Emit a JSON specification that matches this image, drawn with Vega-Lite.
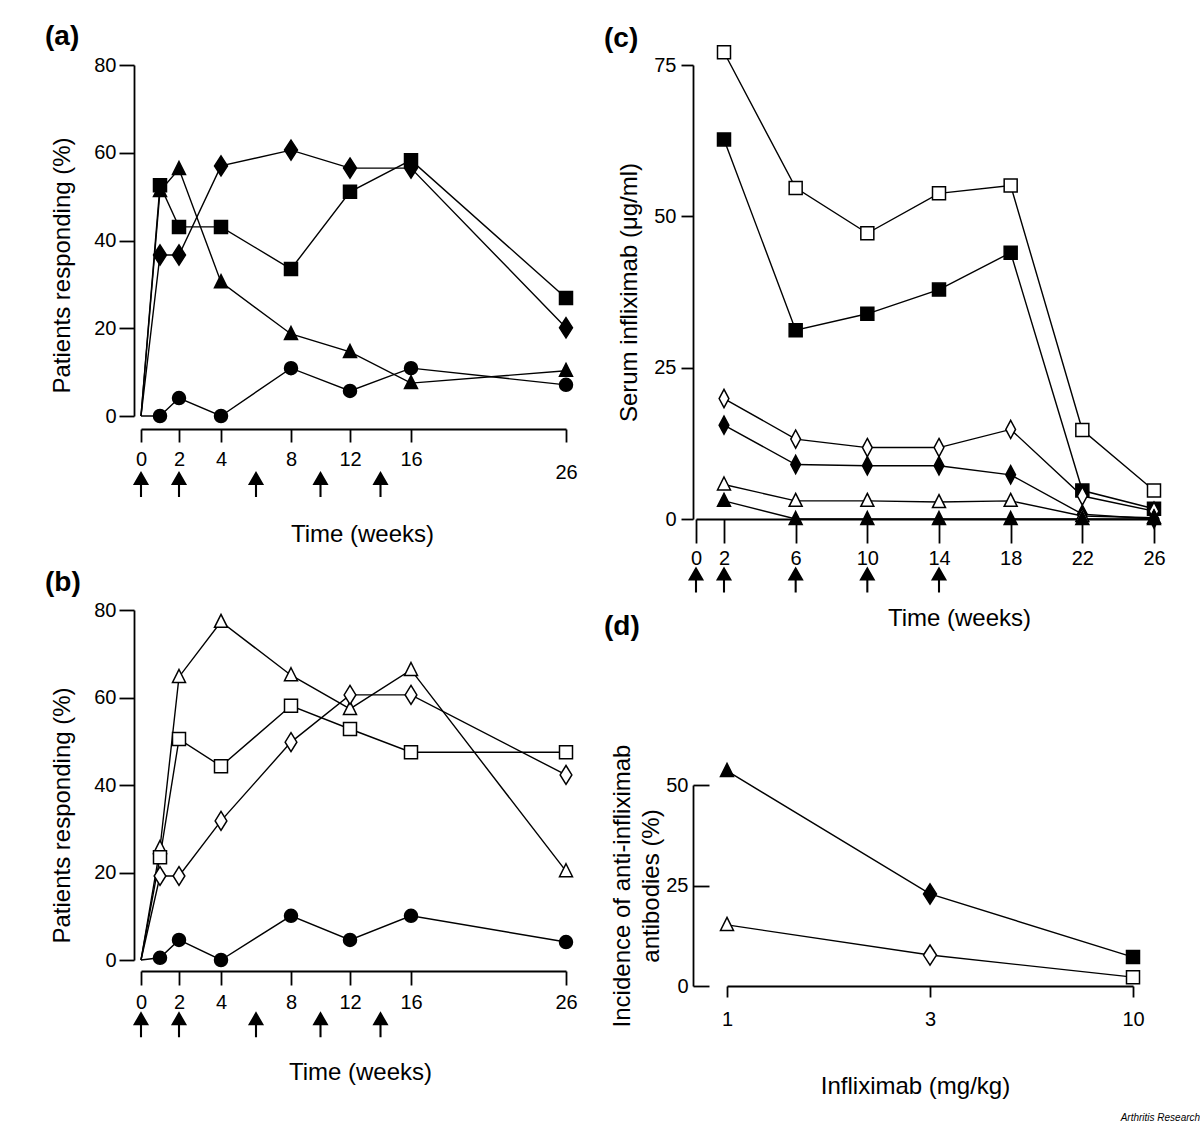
{
"$schema": "https://vega.github.io/schema/vega-lite/v6.json",
"padding": {"left": 45, "top": 23, "right": 5, "bottom": 2},
"config": {
 "font": "Liberation Sans",
 "view": {"stroke": null},
 "axis": {"grid": false, "domainColor": "black", "domainWidth": 1.8, "tickColor": "black", "tickWidth": 1.8, "labelColor": "black", "labelFontSize": 20, "labelFont": "Liberation Sans", "titleColor": "black", "titleFont": "Liberation Sans", "titleFontSize": 24, "titleFontWeight": "normal", "labelOverlap": false, "labelFlush": false},
 "title": {"fontSize": 28, "fontWeight": "bold", "color": "black", "font": "Liberation Sans"}
},
"title": {"text": "Arthritis Research", "orient": "bottom", "anchor": "end", "fontSize": 10, "fontStyle": "italic", "fontWeight": "normal", "baseline": "alphabetic", "offset": 23, "dx": 35, "color": "black"},
"datasets": {
 "inf": [{"week": 0}, {"week": 2}, {"week": 6}, {"week": 10}, {"week": 14}],
 "resp": [
  {"panel":"a","dose":"10 mg/kg","mtx":"without MTX","week":0,"pct":0},
  {"panel":"a","dose":"10 mg/kg","mtx":"without MTX","week":1,"pct":52.6},
  {"panel":"a","dose":"10 mg/kg","mtx":"without MTX","week":2,"pct":43.1},
  {"panel":"a","dose":"10 mg/kg","mtx":"without MTX","week":4,"pct":43.1},
  {"panel":"a","dose":"10 mg/kg","mtx":"without MTX","week":8,"pct":33.5},
  {"panel":"a","dose":"10 mg/kg","mtx":"without MTX","week":12,"pct":51.1},
  {"panel":"a","dose":"10 mg/kg","mtx":"without MTX","week":16,"pct":58.3},
  {"panel":"a","dose":"10 mg/kg","mtx":"without MTX","week":26,"pct":26.9},
  {"panel":"a","dose":"3 mg/kg","mtx":"without MTX","week":0,"pct":0},
  {"panel":"a","dose":"3 mg/kg","mtx":"without MTX","week":1,"pct":36.7},
  {"panel":"a","dose":"3 mg/kg","mtx":"without MTX","week":2,"pct":36.7},
  {"panel":"a","dose":"3 mg/kg","mtx":"without MTX","week":4,"pct":57.0},
  {"panel":"a","dose":"3 mg/kg","mtx":"without MTX","week":8,"pct":60.6},
  {"panel":"a","dose":"3 mg/kg","mtx":"without MTX","week":12,"pct":56.5},
  {"panel":"a","dose":"3 mg/kg","mtx":"without MTX","week":16,"pct":56.5},
  {"panel":"a","dose":"3 mg/kg","mtx":"without MTX","week":26,"pct":20.1},
  {"panel":"a","dose":"1 mg/kg","mtx":"without MTX","week":0,"pct":0},
  {"panel":"a","dose":"1 mg/kg","mtx":"without MTX","week":1,"pct":51.3},
  {"panel":"a","dose":"1 mg/kg","mtx":"without MTX","week":2,"pct":56.3},
  {"panel":"a","dose":"1 mg/kg","mtx":"without MTX","week":4,"pct":30.5},
  {"panel":"a","dose":"1 mg/kg","mtx":"without MTX","week":8,"pct":18.7},
  {"panel":"a","dose":"1 mg/kg","mtx":"without MTX","week":12,"pct":14.6},
  {"panel":"a","dose":"1 mg/kg","mtx":"without MTX","week":16,"pct":7.5},
  {"panel":"a","dose":"1 mg/kg","mtx":"without MTX","week":26,"pct":10.3},
  {"panel":"a","dose":"Placebo","mtx":"Placebo","week":0,"pct":0},
  {"panel":"a","dose":"Placebo","mtx":"Placebo","week":1,"pct":0},
  {"panel":"a","dose":"Placebo","mtx":"Placebo","week":2,"pct":4.1},
  {"panel":"a","dose":"Placebo","mtx":"Placebo","week":4,"pct":0},
  {"panel":"a","dose":"Placebo","mtx":"Placebo","week":8,"pct":10.9},
  {"panel":"a","dose":"Placebo","mtx":"Placebo","week":12,"pct":5.7},
  {"panel":"a","dose":"Placebo","mtx":"Placebo","week":16,"pct":10.9},
  {"panel":"a","dose":"Placebo","mtx":"Placebo","week":26,"pct":7.1},
  {"panel":"b","dose":"1 mg/kg","mtx":"with MTX","week":0,"pct":0},
  {"panel":"b","dose":"1 mg/kg","mtx":"with MTX","week":1,"pct":25.6},
  {"panel":"b","dose":"1 mg/kg","mtx":"with MTX","week":2,"pct":64.7},
  {"panel":"b","dose":"1 mg/kg","mtx":"with MTX","week":4,"pct":77.3},
  {"panel":"b","dose":"1 mg/kg","mtx":"with MTX","week":8,"pct":65.1},
  {"panel":"b","dose":"1 mg/kg","mtx":"with MTX","week":12,"pct":57.4},
  {"panel":"b","dose":"1 mg/kg","mtx":"with MTX","week":16,"pct":66.3},
  {"panel":"b","dose":"1 mg/kg","mtx":"with MTX","week":26,"pct":20.3},
  {"panel":"b","dose":"10 mg/kg","mtx":"with MTX","week":0,"pct":0},
  {"panel":"b","dose":"10 mg/kg","mtx":"with MTX","week":1,"pct":23.5},
  {"panel":"b","dose":"10 mg/kg","mtx":"with MTX","week":2,"pct":50.5},
  {"panel":"b","dose":"10 mg/kg","mtx":"with MTX","week":4,"pct":44.3},
  {"panel":"b","dose":"10 mg/kg","mtx":"with MTX","week":8,"pct":58.1},
  {"panel":"b","dose":"10 mg/kg","mtx":"with MTX","week":12,"pct":52.8},
  {"panel":"b","dose":"10 mg/kg","mtx":"with MTX","week":16,"pct":47.5},
  {"panel":"b","dose":"10 mg/kg","mtx":"with MTX","week":26,"pct":47.5},
  {"panel":"b","dose":"3 mg/kg","mtx":"with MTX","week":0,"pct":0},
  {"panel":"b","dose":"3 mg/kg","mtx":"with MTX","week":1,"pct":19.2},
  {"panel":"b","dose":"3 mg/kg","mtx":"with MTX","week":2,"pct":19.2},
  {"panel":"b","dose":"3 mg/kg","mtx":"with MTX","week":4,"pct":31.8},
  {"panel":"b","dose":"3 mg/kg","mtx":"with MTX","week":8,"pct":49.8},
  {"panel":"b","dose":"3 mg/kg","mtx":"with MTX","week":12,"pct":60.6},
  {"panel":"b","dose":"3 mg/kg","mtx":"with MTX","week":16,"pct":60.6},
  {"panel":"b","dose":"3 mg/kg","mtx":"with MTX","week":26,"pct":42.3},
  {"panel":"b","dose":"Placebo","mtx":"Placebo","week":0,"pct":0},
  {"panel":"b","dose":"Placebo","mtx":"Placebo","week":1,"pct":0.5},
  {"panel":"b","dose":"Placebo","mtx":"Placebo","week":2,"pct":4.6},
  {"panel":"b","dose":"Placebo","mtx":"Placebo","week":4,"pct":0},
  {"panel":"b","dose":"Placebo","mtx":"Placebo","week":8,"pct":10.1},
  {"panel":"b","dose":"Placebo","mtx":"Placebo","week":12,"pct":4.6},
  {"panel":"b","dose":"Placebo","mtx":"Placebo","week":16,"pct":10.1},
  {"panel":"b","dose":"Placebo","mtx":"Placebo","week":26,"pct":4.1}
 ],
 "serum": [
  {"dose":"10 mg/kg","mtx":"with MTX","week":2,"conc":77.1},
  {"dose":"10 mg/kg","mtx":"with MTX","week":6,"conc":54.7},
  {"dose":"10 mg/kg","mtx":"with MTX","week":10,"conc":47.2},
  {"dose":"10 mg/kg","mtx":"with MTX","week":14,"conc":53.8},
  {"dose":"10 mg/kg","mtx":"with MTX","week":18,"conc":55.1},
  {"dose":"10 mg/kg","mtx":"with MTX","week":22,"conc":14.7},
  {"dose":"10 mg/kg","mtx":"with MTX","week":26,"conc":4.7},
  {"dose":"10 mg/kg","mtx":"without MTX","week":2,"conc":62.7},
  {"dose":"10 mg/kg","mtx":"without MTX","week":6,"conc":31.2},
  {"dose":"10 mg/kg","mtx":"without MTX","week":10,"conc":33.9},
  {"dose":"10 mg/kg","mtx":"without MTX","week":14,"conc":37.9},
  {"dose":"10 mg/kg","mtx":"without MTX","week":18,"conc":44.0},
  {"dose":"10 mg/kg","mtx":"without MTX","week":22,"conc":4.7},
  {"dose":"10 mg/kg","mtx":"without MTX","week":26,"conc":1.7},
  {"dose":"3 mg/kg","mtx":"with MTX","week":2,"conc":19.9},
  {"dose":"3 mg/kg","mtx":"with MTX","week":6,"conc":13.2},
  {"dose":"3 mg/kg","mtx":"with MTX","week":10,"conc":11.8},
  {"dose":"3 mg/kg","mtx":"with MTX","week":14,"conc":11.8},
  {"dose":"3 mg/kg","mtx":"with MTX","week":18,"conc":14.8},
  {"dose":"3 mg/kg","mtx":"with MTX","week":22,"conc":3.8},
  {"dose":"3 mg/kg","mtx":"with MTX","week":26,"conc":1.3},
  {"dose":"3 mg/kg","mtx":"without MTX","week":2,"conc":15.5},
  {"dose":"3 mg/kg","mtx":"without MTX","week":6,"conc":9.0},
  {"dose":"3 mg/kg","mtx":"without MTX","week":10,"conc":8.8},
  {"dose":"3 mg/kg","mtx":"without MTX","week":14,"conc":8.8},
  {"dose":"3 mg/kg","mtx":"without MTX","week":18,"conc":7.3},
  {"dose":"3 mg/kg","mtx":"without MTX","week":22,"conc":0.8},
  {"dose":"3 mg/kg","mtx":"without MTX","week":26,"conc":0},
  {"dose":"1 mg/kg","mtx":"with MTX","week":2,"conc":5.7},
  {"dose":"1 mg/kg","mtx":"with MTX","week":6,"conc":3.0},
  {"dose":"1 mg/kg","mtx":"with MTX","week":10,"conc":3.0},
  {"dose":"1 mg/kg","mtx":"with MTX","week":14,"conc":2.8},
  {"dose":"1 mg/kg","mtx":"with MTX","week":18,"conc":3.0},
  {"dose":"1 mg/kg","mtx":"with MTX","week":22,"conc":0.5},
  {"dose":"1 mg/kg","mtx":"with MTX","week":26,"conc":0.2},
  {"dose":"1 mg/kg","mtx":"without MTX","week":2,"conc":3.0},
  {"dose":"1 mg/kg","mtx":"without MTX","week":6,"conc":0},
  {"dose":"1 mg/kg","mtx":"without MTX","week":10,"conc":0},
  {"dose":"1 mg/kg","mtx":"without MTX","week":14,"conc":0},
  {"dose":"1 mg/kg","mtx":"without MTX","week":18,"conc":0},
  {"dose":"1 mg/kg","mtx":"without MTX","week":22,"conc":0},
  {"dose":"1 mg/kg","mtx":"without MTX","week":26,"conc":0}
 ],
 "antib": [
  {"mgkg":1,"mtx":"without MTX","pct":53.5},
  {"mgkg":3,"mtx":"without MTX","pct":22.9},
  {"mgkg":10,"mtx":"without MTX","pct":7.2},
  {"mgkg":1,"mtx":"with MTX","pct":15.2},
  {"mgkg":3,"mtx":"with MTX","pct":7.7},
  {"mgkg":10,"mtx":"with MTX","pct":2.2}
 ]
},
"spacing": 26,
"resolve": {"scale": {"shape": "independent", "fill": "independent"}},
"hconcat": [
 {
  "vconcat": [
   {
    "width": 432, "height": 351,
    "title": {"text": "(a)", "anchor": "start", "frame": "group", "dx": -89, "offset": -18, "baseline": "alphabetic"},
    "layer": [
     {
      "data": {"name": "resp"},
      "transform": [{"filter": "datum.panel === 'a'"}],
      "mark": {"type": "line", "color": "black", "strokeWidth": 1.4},
      "encoding": {
       "x": {"field": "week", "type": "quantitative", "title": "Time (weeks)",
             "scale": {"domain": [0,2,4,8,12,16,26], "range": [7,45,87,157,216,277,432], "nice": false, "zero": false},
             "axis": {"values": [0,2,4,8,12,16,26], "offset": 13, "tickSize": 13, "labelPadding": {"condition": {"test": "datum.value === 26", "value": 20}, "value": 7}, "titleX": 228, "titleY": 112, "titleBaseline": "alphabetic"}},
       "y": {"field": "pct", "type": "quantitative", "title": "Patients responding (%)",
             "scale": {"domain": [0,80], "nice": false, "zero": false},
             "axis": {"values": [0,20,40,60,80], "tickSize": 15, "labelPadding": 3, "titleX": -72, "titleY": 200, "titleBaseline": "middle"}},
       "detail": {"field": "dose"}
      }
     },
     {
      "data": {"name": "resp"},
      "transform": [{"filter": "datum.panel === 'a' && datum.week > 0"}],
      "mark": {"type": "point", "filled": true, "stroke": "black", "strokeWidth": 1.5, "opacity": 1, "size": 169},
      "encoding": {
       "x": {"field": "week", "type": "quantitative", "title": "Time (weeks)", "scale": {"domain": [0,2,4,8,12,16,26], "range": [7,45,87,157,216,277,432], "nice": false, "zero": false}},
       "y": {"field": "pct", "type": "quantitative", "title": "Patients responding (%)", "scale": {"domain": [0,80], "nice": false, "zero": false}},
       "shape": {"field": "dose", "type": "nominal", "legend": null, "scale": {"domain": ["1 mg/kg","3 mg/kg","10 mg/kg","Placebo"], "range": ["M0,-1.15L1,0.85L-1,0.85Z", "M0,-1.55L1,0L0,1.55L-1,0Z", "M-1,-1L1,-1L1,1L-1,1Z", "M1,0A1,1,0,1,1,-1,0A1,1,0,1,1,1,0Z"]}},
       "fill": {"field": "mtx", "type": "nominal", "legend": null, "scale": {"domain": ["without MTX","with MTX","Placebo"], "range": ["black","white","black"]}}
      }
     },
     {
      "data": {"name": "inf"},
      "mark": {"type": "point", "shape": "M0,-1L0.62,0.08L0.08,0.08L0.08,1L-0.08,1L-0.08,0.08L-0.62,0.08Z", "filled": true, "color": "black", "opacity": 1, "size": 676},
      "encoding": {
       "x": {"field": "week", "type": "quantitative", "title": "Time (weeks)", "scale": {"domain": [0,2,4,8,12,16,26], "range": [7,45,87,157,216,277,432], "nice": false, "zero": false}},
       "y": {"datum": -15.5, "type": "quantitative", "title": "Patients responding (%)", "scale": {"domain": [0,80], "nice": false, "zero": false}}
      }
     }
    ]
   },
   {
    "width": 432, "height": 350,
    "title": {"text": "(b)", "anchor": "start", "frame": "group", "dx": -89, "offset": -19, "baseline": "alphabetic"},
    "layer": [
     {
      "data": {"name": "resp"},
      "transform": [{"filter": "datum.panel === 'b'"}],
      "mark": {"type": "line", "color": "black", "strokeWidth": 1.4},
      "encoding": {
       "x": {"field": "week", "type": "quantitative", "title": "Time (weeks)",
             "scale": {"domain": [0,2,4,8,12,16,26], "range": [7,45,87,157,216,277,432], "nice": false, "zero": false},
             "axis": {"values": [0,2,4,8,12,16,26], "offset": 11, "tickSize": 14, "labelPadding": 7, "titleX": 226, "titleY": 108, "titleBaseline": "alphabetic"}},
       "y": {"field": "pct", "type": "quantitative", "title": "Patients responding (%)",
             "scale": {"domain": [0,80], "nice": false, "zero": false},
             "axis": {"values": [0,20,40,60,80], "tickSize": 15, "labelPadding": 3, "titleX": -72, "titleY": 205, "titleBaseline": "middle"}},
       "detail": {"field": "dose"}
      }
     },
     {
      "data": {"name": "resp"},
      "transform": [{"filter": "datum.panel === 'b' && datum.week > 0"}],
      "mark": {"type": "point", "filled": true, "stroke": "black", "strokeWidth": 1.5, "opacity": 1, "size": 169},
      "encoding": {
       "x": {"field": "week", "type": "quantitative", "title": "Time (weeks)", "scale": {"domain": [0,2,4,8,12,16,26], "range": [7,45,87,157,216,277,432], "nice": false, "zero": false}},
       "y": {"field": "pct", "type": "quantitative", "title": "Patients responding (%)", "scale": {"domain": [0,80], "nice": false, "zero": false}},
       "shape": {"field": "dose", "type": "nominal", "legend": null, "scale": {"domain": ["1 mg/kg","3 mg/kg","10 mg/kg","Placebo"], "range": ["M0,-1.15L1,0.85L-1,0.85Z", "M0,-1.45L0.9,0L0,1.45L-0.9,0Z", "M-1,-1L1,-1L1,1L-1,1Z", "M1,0A1,1,0,1,1,-1,0A1,1,0,1,1,1,0Z"]}},
       "fill": {"field": "mtx", "type": "nominal", "legend": null, "scale": {"domain": ["without MTX","with MTX","Placebo"], "range": ["black","white","black"]}}
      }
     },
     {
      "data": {"name": "inf"},
      "mark": {"type": "point", "shape": "M0,-1L0.62,0.08L0.08,0.08L0.08,1L-0.08,1L-0.08,0.08L-0.62,0.08Z", "filled": true, "color": "black", "opacity": 1, "size": 676},
      "encoding": {
       "x": {"field": "week", "type": "quantitative", "title": "Time (weeks)", "scale": {"domain": [0,2,4,8,12,16,26], "range": [7,45,87,157,216,277,432], "nice": false, "zero": false}},
       "y": {"datum": -14.7, "type": "quantitative", "title": "Patients responding (%)", "scale": {"domain": [0,80], "nice": false, "zero": false}}
      }
     }
    ]
   }
  ],
  "spacing": 194,
  "bounds": "flush",
  "resolve": {"scale": {"shape": "independent", "fill": "independent"}}
 },
 {
  "vconcat": [
   {
    "width": 470, "height": 454,
    "title": {"text": "(c)", "anchor": "start", "frame": "group", "dx": -89, "offset": -32, "baseline": "alphabetic"},
    "layer": [
     {
      "data": {"name": "serum"},
      "mark": {"type": "line", "color": "black", "strokeWidth": 1.4},
      "encoding": {
       "x": {"field": "week", "type": "quantitative", "title": "Time (weeks)",
             "scale": {"domain": [0,2,26], "range": [3,31,461], "nice": false, "zero": false},
             "axis": {"values": [0,2,6,10,14,18,22,26], "offset": 0, "tickSize": 24, "labelPadding": 5, "titleX": 266, "titleY": 106, "titleBaseline": "alphabetic"}},
       "y": {"field": "conc", "type": "quantitative", "title": "Serum infliximab (μg/ml)",
             "scale": {"domain": [0,75], "nice": false, "zero": false},
             "axis": {"values": [0,25,50,75], "tickSize": 12, "labelPadding": 5, "titleX": -64, "titleBaseline": "middle"}},
       "detail": [{"field": "dose"}, {"field": "mtx"}]
      }
     },
     {
      "data": {"name": "serum"},
      "mark": {"type": "point", "filled": true, "stroke": "black", "strokeWidth": 1.5, "opacity": 1, "size": 169},
      "encoding": {
       "x": {"field": "week", "type": "quantitative", "title": "Time (weeks)", "scale": {"domain": [0,2,26], "range": [3,31,461], "nice": false, "zero": false}},
       "y": {"field": "conc", "type": "quantitative", "title": "Serum infliximab (μg/ml)", "scale": {"domain": [0,75], "nice": false, "zero": false}},
       "shape": {"field": "dose", "type": "nominal", "legend": null, "scale": {"domain": ["1 mg/kg","3 mg/kg","10 mg/kg"], "range": ["M0,-1.15L1,0.85L-1,0.85Z", "M0,-1.4L0.75,0L0,1.4L-0.75,0Z", "M-1,-1L1,-1L1,1L-1,1Z"]}},
       "fill": {"field": "mtx", "type": "nominal", "legend": null, "scale": {"domain": ["without MTX","with MTX"], "range": ["black","white"]}}
      }
     },
     {
      "data": {"name": "inf"},
      "mark": {"type": "point", "shape": "M0,-1L0.62,0.08L0.08,0.08L0.08,1L-0.08,1L-0.08,0.08L-0.62,0.08Z", "filled": true, "color": "black", "opacity": 1, "size": 676},
      "encoding": {
       "x": {"field": "week", "type": "quantitative", "title": "Time (weeks)", "scale": {"domain": [0,2,26], "range": [3,31,461], "nice": false, "zero": false}},
       "y": {"datum": -10, "type": "quantitative", "title": "Serum infliximab (μg/ml)", "scale": {"domain": [0,75], "nice": false, "zero": false}}
      }
     }
    ]
   },
   {
    "width": 451, "height": 201,
    "title": {"text": "(d)", "anchor": "start", "frame": "group", "dx": -89, "offset": 81, "baseline": "alphabetic"},
    "layer": [
     {
      "data": {"name": "antib"},
      "mark": {"type": "line", "color": "black", "strokeWidth": 1.4},
      "encoding": {
       "x": {"field": "mgkg", "type": "quantitative", "title": "Infliximab (mg/kg)",
             "scale": {"domain": [1,3,10], "range": [34,237,440], "nice": false, "zero": false},
             "axis": {"values": [1,3,10], "offset": 0, "tickSize": 11, "labelPadding": 12, "titleX": 222, "titleY": 107, "titleBaseline": "alphabetic"}},
       "y": {"field": "pct", "type": "quantitative", "title": ["Incidence of anti-infliximab", "antibodies (%)"],
             "scale": {"domain": [0,50], "nice": false, "zero": false},
             "axis": {"values": [0,25,50], "tickSize": -16, "labelPadding": 21, "titleX": -71, "titleBaseline": "middle", "titleLineHeight": 29}},
       "detail": {"field": "mtx"}
      }
     },
     {
      "data": {"name": "antib"},
      "mark": {"type": "point", "filled": true, "stroke": "black", "strokeWidth": 1.5, "opacity": 1, "size": 169},
      "encoding": {
       "x": {"field": "mgkg", "type": "quantitative", "title": "Infliximab (mg/kg)", "scale": {"domain": [1,3,10], "range": [34,237,440], "nice": false, "zero": false}},
       "y": {"field": "pct", "type": "quantitative", "title": ["Incidence of anti-infliximab", "antibodies (%)"], "scale": {"domain": [0,50], "nice": false, "zero": false}},
       "shape": {"field": "mgkg", "type": "nominal", "legend": null, "scale": {"domain": [1,3,10], "range": ["M0,-1.15L1,0.85L-1,0.85Z", "M0,-1.55L1,0L0,1.55L-1,0Z", "M-1,-1L1,-1L1,1L-1,1Z"]}},
       "fill": {"field": "mtx", "type": "nominal", "legend": null, "scale": {"domain": ["without MTX","with MTX"], "range": ["black","white"]}}
      }
     }
    ]
   }
  ],
  "spacing": 266,
  "bounds": "flush",
  "resolve": {"scale": {"shape": "independent", "fill": "independent"}}
 }
]
}
